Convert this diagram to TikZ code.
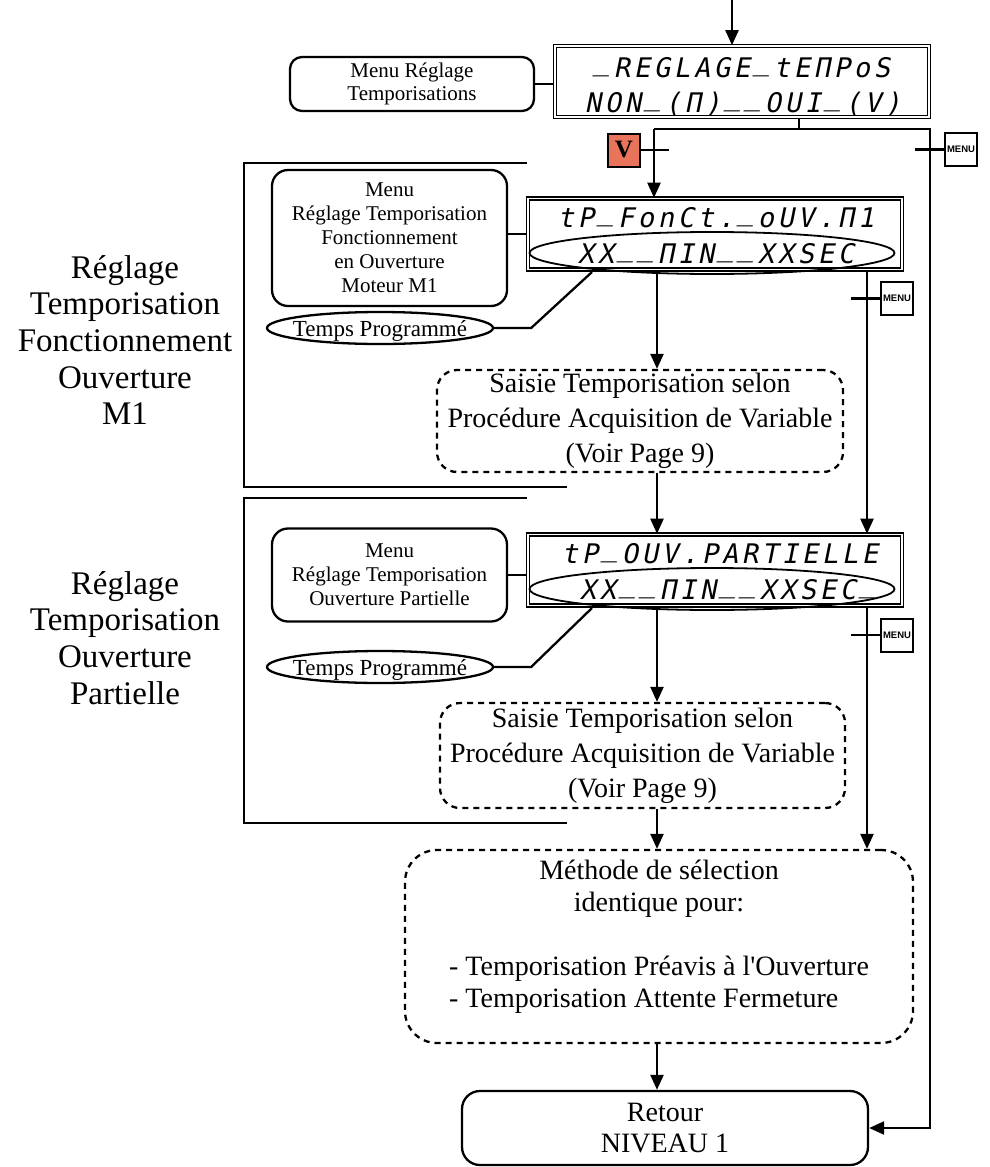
\documentclass[tikz,border=0pt]{standalone}
\usepackage{fontspec}
\setmainfont{Liberation Serif}
\setsansfont{Liberation Sans}
\newfontfamily\lcdfont{DejaVu Sans Mono}[FakeSlant=0.2]
\newcommand\lcdchar[1]{\makebox[20pt]{\ifx#1=\raisebox{0.24em}{\_}\else#1\fi}}
\def\lcdloop#1{\ifx#1\relax\else\lcdchar{#1}\expandafter\lcdloop\fi}
\newcommand\lcdline[1]{\lcdloop#1\relax}
\usetikzlibrary{arrows.meta,shapes.geometric}
\definecolor{vred}{RGB}{232,116,92}
\begin{document}
\begin{tikzpicture}[x=1pt,y=-1pt,
  ln/.style={line width=2.3pt},
  arr/.style={ln,-{Triangle[width=13pt,length=15pt]}},
  lcd/.style={draw,double,double distance=1.5pt,line width=1.6pt,minimum width=374pt,minimum height=71pt,inner sep=0pt},
  lcdtxt/.style={anchor=base,inner sep=0pt,font=\lcdfont\fontsize{27}{27}\selectfont},
  oval/.style={draw,line width=1.8pt,ellipse,minimum width=365pt,minimum height=42pt,inner sep=0pt},
  box/.style={draw,ln,align=center,inner sep=0pt},
  dbox/.style={draw,ln,dash pattern=on 6pt off 5pt,align=center,inner sep=0pt},
  keybox/.style={draw,line width=2pt,minimum width=32pt,minimum height=33pt,inner sep=0pt},
  menukey/.style={keybox,font=\sffamily\bfseries\fontsize{9.5}{10}\selectfont},
  tempsell/.style={draw,ln,ellipse,minimum width=226pt,minimum height=32pt,inner sep=0pt,font=\fontsize{23}{23}\selectfont},
  sidelabel/.style={align=center,inner sep=0pt,font=\fontsize{33}{36.7}\selectfont}
]
\useasboundingbox (0,0) rectangle (989,1167);

% side brackets
\draw[ln] (527,163) -- (244,163) -- (244,487) -- (567,487);
\draw[ln] (527,498) -- (244,498) -- (244,823) -- (567,823);

\node[sidelabel] (lab1) at (125,340) {Réglage\\Temporisation\\Fonctionnement\\Ouverture\\M1};
\node[sidelabel] (lab2) at (125,638) {Réglage\\Temporisation\\Ouverture\\Partielle};

% LCD 1
\node[lcd] (lcd1) at (742,81.5) {};
\node[lcdtxt] (lcd1a) at (742,77) {\lcdline{=REGLAGE=tEΠPoS}};
\node[lcdtxt] (lcd1b) at (743,112) {\lcdline{NON=(Π)==OUI=(V)}};
\node[box,rounded corners=12pt,minimum width=244pt,minimum height=54pt,font=\fontsize{21}{23}\selectfont] (menu1) at (412,84) {Menu Réglage\\Temporisations};

% LCD 2
\node[lcd] (lcd2) at (715,234) {};
\node[lcdtxt] (lcd2a) at (716,227) {\lcdline{tP=FonCt.=oUV.Π1}};
\node[lcdtxt] (lcd2b) at (716,263) {\lcdline{XX==ΠIN==XXSEC}};
\node[oval] (ov2) at (712,253) {};
\node[box,rounded corners=16pt,minimum width=235pt,minimum height=136pt,font=\fontsize{21}{24}\selectfont] (menu2) at (389.5,238) {Menu\\Réglage Temporisation\\Fonctionnement\\en Ouverture\\Moteur M1};
\node[tempsell] (t1) at (380,328) {\raisebox{-0.35em}[0pt][0pt]{\makebox[0pt]{Temps Programmé}}};

% LCD 3
\node[lcd] (lcd3) at (715,570) {};
\node[lcdtxt] (lcd3a) at (720,563) {\lcdline{tP=OUV.PARTIELLE}};
\node[lcdtxt] (lcd3b) at (728,599) {\lcdline{XX==ΠIN==XXSEC=}};
\node[oval] (ov3) at (712,589) {};
\node[box,rounded corners=16pt,minimum width=235pt,minimum height=93pt,font=\fontsize{21}{24}\selectfont] (menu3) at (389.5,575) {Menu\\Réglage Temporisation\\Ouverture Partielle};
\node[tempsell] (t2) at (380,667) {\raisebox{-0.35em}[0pt][0pt]{\makebox[0pt]{Temps Programmé}}};

% Saisie boxes
\node[dbox,rounded corners=20pt,minimum width=406pt,minimum height=102pt,font=\fontsize{28}{35}\selectfont] (s1) at (640,421) {Saisie Temporisation selon\\Procédure Acquisition de Variable\\(Voir Page 9)};
\node[dbox,rounded corners=20pt,minimum width=405pt,minimum height=105pt,font=\fontsize{28}{35}\selectfont] (s2) at (642.5,755.5) {Saisie Temporisation selon\\Procédure Acquisition de Variable\\(Voir Page 9)};

% Methode
\node[dbox,rounded corners=32pt,minimum width=508pt,minimum height=193pt] (meth) at (659,946.5) {};
\node[align=center,inner sep=0pt,font=\fontsize{28}{32}\selectfont] (methtxt) at ([yshift=8pt]meth.center) {Méthode de sélection\\identique pour:\\[32pt]\begin{tabular}[t]{@{}l@{}}- Temporisation Préavis à l\textquotesingle Ouverture\\- Temporisation Attente Fermeture\end{tabular}};

% Retour
\node[box,rounded corners=18pt,minimum width=406pt,minimum height=74pt,font=\fontsize{28}{31}\selectfont] (ret) at (665,1128) {Retour\\NIVEAU 1};

% keys
\node[keybox,fill=vred,font=\fontsize{25}{25}\selectfont\bfseries] (vkey) at (624,150) {V};
\node[menukey] (menuA) at (961,149.5) {MENU};
\node[menukey] (menuB) at (897,298.5) {MENU};
\node[menukey] (menuC) at (897,635) {MENU};

% coordinates
\coordinate (top) at (732,0);
\coordinate (j1) at (799,129);
\coordinate (jL) at (654,129);
\coordinate (jR) at (930,129);
\coordinate (c1) at (657,0);
\coordinate (c2) at (867,0);
\coordinate (tp1) at (592,272);
\coordinate (tp2) at (592,608);

% connectors
\draw[arr] (top) -- (top |- lcd1.north);
\draw[ln] (menu1.east) -- (menu1.east -| lcd1.west);
\draw[ln] (lcd1.south -| j1) -- (j1);
\draw[arr] (jL) -- (jL |- lcd2.north);
\draw[arr] (jL) -- (jR) |- (ret.east);
\draw[ln] (vkey.east) -- ++(28,0);
\draw[ln] (menuA.west) -- ++(-29,0);
\draw[ln] (menuB.west) -- ++(-29,0);
\draw[ln] (menuC.west) -- ++(-29,0);

\draw[ln] (lcd2.west) -- (lcd2.west -| menu2.east);
\draw[ln] (lcd3.west |- menu3.east) -- (menu3.east);
\draw[ln] (t1.east) -- ++(37,0) -- (tp1);
\draw[ln] (t2.east) -- ++(37,0) -- (tp2);

\draw[arr] (lcd2.south -| c1) -- (s1.north -| c1);
\draw[arr] (s1.south -| c1) -- (lcd3.north -| c1);
\draw[arr] (lcd3.south -| c1) -- (s2.north -| c1);
\draw[arr] (s2.south -| c1) -- (meth.north -| c1);
\draw[arr] (meth.south -| c1) -- (ret.north -| c1);

\draw[arr] (lcd2.south -| c2) -- (lcd3.north -| c2);
\draw[arr] (lcd3.south -| c2) -- (meth.north -| c2);
\end{tikzpicture}
\end{document}
